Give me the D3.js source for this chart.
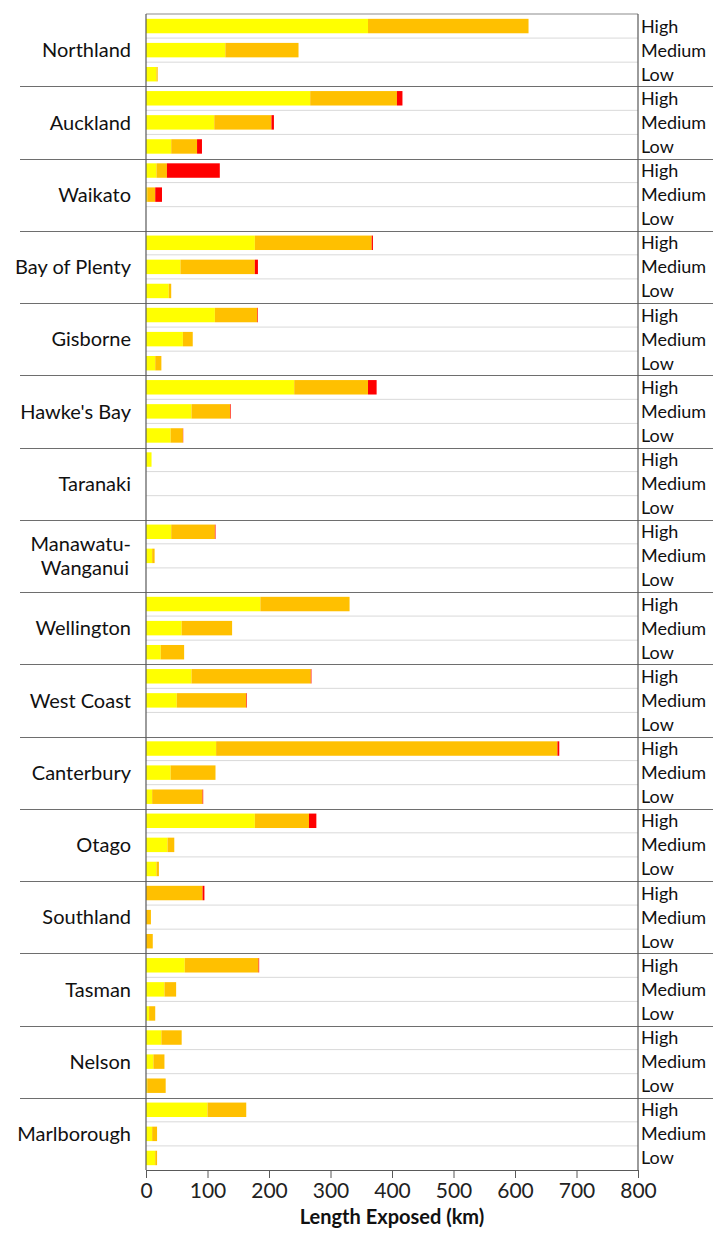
<!DOCTYPE html>
<head>
    <meta charset="utf-8">
    <title>Length Exposed</title>
    <script src="https://d3js.org/d3.v7.min.js"></script>
    <style>
        body { margin: 0; background: #fff; }
        svg { display: block; font-family: Lato, "Open Sans", sans-serif; }
    </style>
</head>
<body>
    <div id="chart"></div>
    <script>
        const regions = ["Northland", "Auckland", "Waikato", "Bay of Plenty", "Gisborne", "Hawke's Bay",
            "Taranaki", "Manawatu-\nWanganui", "Wellington", "West Coast", "Canterbury", "Otago",
            "Southland", "Tasman", "Nelson", "Marlborough"];
        const levels = ["High", "Medium", "Low"];

        // km per segment, one triple (High, Medium, Low) per region
        const yellowKm = [[361,129,17],[267,111,41],[17,2,0],[177,56,37],[112,60,15],[241,74,40],[9,0,0],[41,10,0],
            [186,58,24],[74,50,0],[114,40,10],[177,35,17],[0,0,0],[63,30,5],[25,12,2],[100,10,15]];
        const orangeKm = [[261,119,2],[141,93,42],[17,13,0],[190,121,4],[69,16,10],[120,63,20],[0,0,0],[71,4,0],
            [145,82,38],[194,113,0],[555,73,82],[88,11,4],[92,8,11],[120,19,10],[33,18,30],[63,8,3]];
        const redKm = [[0,0,0],[9,4,8],[86,11,0],[2,5,0],[1,0,0],[14,1,0.5],[0,0,0],[1,0,0],
            [0,0,0],[1,1,0],[3,0,1],[12,0,0],[3,0,0],[1,0,0],[0,0,0],[0,0,0]];
        const xTicks = [0, 100, 200, 300, 400, 500, 600, 700, 800];
        const colors = { yellow: "#ffff00", orange: "#ffc000", red: "#ff0000" };

        const W = 713, H = 1236;
        const m = { top: 14, right: 75, bottom: 66, left: 146 };

        const rows = [];
        regions.forEach((r, i) => levels.forEach((l, j) => rows.push({
            region: r, level: l, key: i + "|" + l,
            yellow: yellowKm[i][j], orange: orangeKm[i][j], red: redKm[i][j]
        })));

        const svg = d3.select("#chart").append("svg").attr("width", W).attr("height", H);

        const x = d3.scaleLinear().domain([0, 800]).range([m.left, W - m.right]);
        const yRegion = d3.scaleBand().domain(regions).range([m.top, H - m.bottom]);
        const yLevel = d3.scaleBand().domain(levels).range([0, yRegion.bandwidth()]);
        const barPad = 0.4;
        const barH = yLevel.bandwidth() * (1 - barPad);

        const stack = d3.stack().keys(["yellow", "orange", "red"]);
        const series = stack(rows);

        // light row separators
        svg.append("g").selectAll("line")
            .data(rows.filter(d => d.level !== "Low"))
            .join("line")
            .attr("x1", x(0)).attr("x2", x(800))
            .attr("y1", d => yRegion(d.region) + yLevel(d.level) + yLevel.bandwidth())
            .attr("y2", d => yRegion(d.region) + yLevel(d.level) + yLevel.bandwidth())
            .attr("stroke", "#d9d9d9").attr("stroke-width", 1);

        svg.append("g").selectAll("g")
            .data(series)
            .join("g")
            .attr("fill", s => colors[s.key])
            .selectAll("rect")
            .data(s => s)
            .join("rect")
            .attr("x", d => x(d[0]))
            .attr("width", d => Math.max(0, x(d[1]) - x(d[0])))
            .attr("y", d => yRegion(d.data.region) + yLevel(d.data.level) + (yLevel.bandwidth() - barH) / 2)
            .attr("height", barH);

        // region separators
        svg.append("g").selectAll("line")
            .data(regions.slice(1))
            .join("line")
            .attr("x1", 20).attr("x2", W)
            .attr("y1", d => Math.round(yRegion(d)) + 0.5)
            .attr("y2", d => Math.round(yRegion(d)) + 0.5)
            .attr("stroke", "#6e6e6e").attr("stroke-width", 1.2);

        // frame
        const frame = svg.append("g").attr("stroke", "#595959").attr("stroke-width", 1.2);
        frame.append("line").attr("x1", x(0)).attr("x2", x(800)).attr("y1", m.top).attr("y2", m.top).attr("stroke", "#8c8c8c");
        frame.append("line").attr("x1", x(0)).attr("x2", x(0)).attr("y1", m.top).attr("y2", H - m.bottom);
        frame.append("line").attr("x1", x(800)).attr("x2", x(800)).attr("y1", m.top).attr("y2", H - m.bottom);

        const xAxis = svg.append("g")
            .attr("transform", `translate(0,${H - m.bottom})`)
            .call(d3.axisBottom(x).tickValues(xTicks).tickSize(8).tickPadding(5));
        xAxis.selectAll("path, line").attr("stroke", "#595959");
        xAxis.selectAll("text").attr("font-size", 21).attr("fill", "#222").style("font-family", "Lato, sans-serif");

        svg.append("text")
            .attr("x", (x(0) + x(800)) / 2).attr("y", H - 12)
            .attr("text-anchor", "middle")
            .attr("font-size", 20).attr("font-weight", "bold").attr("fill", "#111")
            .text("Length Exposed (km)");

        // level labels on the right
        svg.append("g").selectAll("text")
            .data(rows)
            .join("text")
            .attr("x", x(800) + 3)
            .attr("y", d => yRegion(d.region) + yLevel(d.level) + yLevel.bandwidth() / 2)
            .attr("dy", "0.36em")
            .attr("font-size", 18).attr("fill", "#111")
            .text(d => d.level);

        // region labels
        const rl = svg.append("g").selectAll("text")
            .data(regions)
            .join("text")
            .attr("text-anchor", "end")
            .attr("font-size", 20).attr("fill", "#111")
            .attr("x", x(0) - 15)
            .attr("y", d => yRegion(d) + yRegion.bandwidth() / 2);
        rl.each(function (d) {
            const parts = d.split("\n");
            const t = d3.select(this);
            parts.forEach((p, i) => {
                t.append("tspan").attr("x", x(0) - 15 - (parts.length > 1 && i === 1 ? 2 : 0))
                    .attr("dy", i === 0 ? (0.36 - (parts.length - 1) * 0.6) + "em" : "1.2em")
                    .text(p);
            });
        });
    </script>
</body>
</html>
